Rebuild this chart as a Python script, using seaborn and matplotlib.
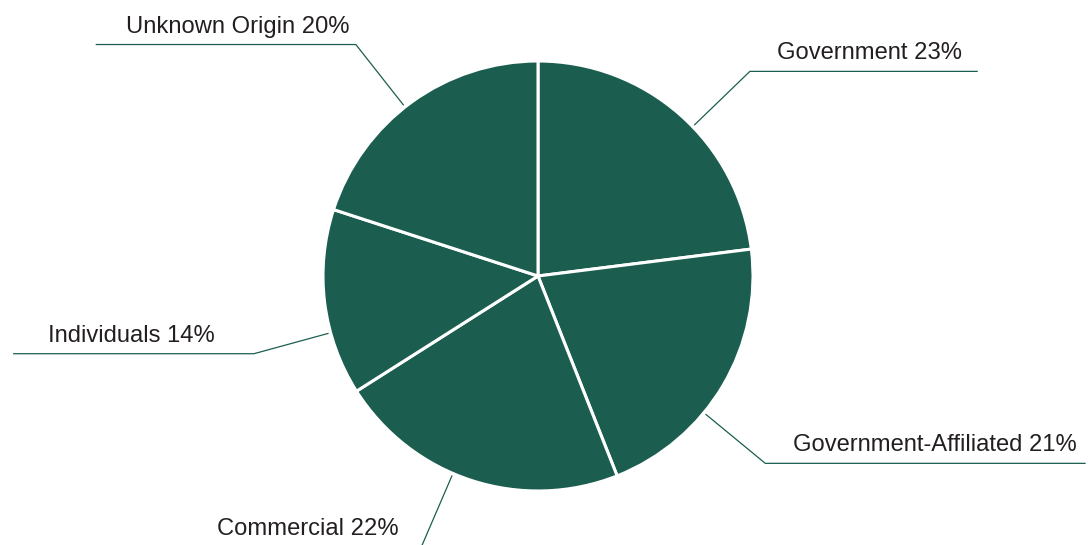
import numpy as np
import matplotlib
matplotlib.use("Agg")
import matplotlib.pyplot as plt
import seaborn as sns

# data (percent share)
categories = ["Government", "Government-Affiliated", "Commercial", "Individuals", "Unknown Origin"]
shares = [23, 21, 22, 14, 20]

# label layout: angle nudge from wedge middle (deg), underline length (radius units),
# sideways shift of the text (pixels)
label_nudge = [-4.6, -8.9, -5.3, 8.1, 2.2]
underline_len = [1.06, 1.49, 1.07, 1.12, 1.21]
text_shift = [6, 9, 1, -2, 12]

green = "#1b5e50"
text_col = "#231f20"

sns.set_theme(style="white")
plt.rcParams["font.family"] = ["Liberation Sans", "DejaVu Sans"]

fig = plt.figure(figsize=(10.88, 5.45), dpi=100)
ax = fig.add_axes([0, 0, 1, 1])

wedges, _ = ax.pie(shares, startangle=90, counterclock=False, radius=1, center=(0, 0),
                   colors=[green] * len(shares),
                   wedgeprops=dict(edgecolor="white", linewidth=2.2))

px = 1 / 215.0  # one pixel in radius units
for w, name, val, nudge, ln, sh in zip(wedges, categories, shares, label_nudge, underline_len, text_shift):
    ang = np.deg2rad((w.theta1 + w.theta2) / 2 + nudge)
    x0, y0 = 1.01 * np.cos(ang), 1.01 * np.sin(ang)
    x1, y1 = 1.37 * np.cos(ang), 1.37 * np.sin(ang)
    side = 1 if np.cos(ang) > 0 else -1
    x2 = x1 + side * ln
    ax.plot([x0, x1, x2], [y0, y1, y1], color=green, lw=0.9, solid_capstyle="butt", clip_on=False)
    ax.text((x1 + x2) / 2 + sh * px, y1 + 12 * px, f"{name} {val}%",
            ha="center", va="baseline", fontsize=17.1, color=text_col)

ax.set_xlim(-538 * px, 550 * px)
ax.set_ylim(-269 * px, 276 * px)
ax.set_aspect("equal")
ax.axis("off")

fig.savefig("out.png", dpi=100, facecolor="white")
